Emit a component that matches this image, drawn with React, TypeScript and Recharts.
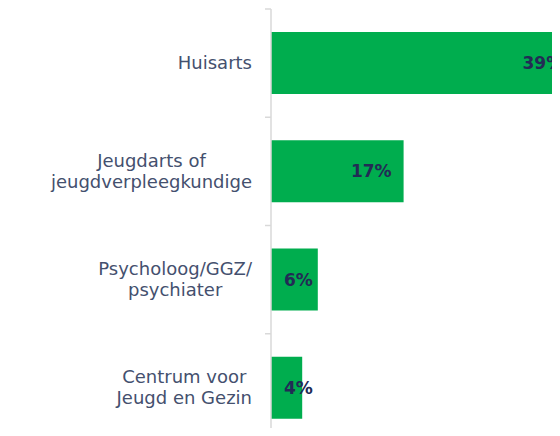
import React from "react";
import { BarChart, Bar, XAxis, YAxis, LabelList } from "recharts";

const categories = ["Huisarts", "Jeugdarts of\njeugdverpleegkundige", "Psycholoog/GGZ/\npsychiater", "Centrum voor\nJeugd en Gezin"];
const values = [39, 17, 6, 4];

const data = categories.map((name, i) => ({ name, value: values[i] }));

const CHART_W = 580;
const CHART_H = 436;
const AXIS_X = 263;
const MARGIN_TOP = 1;
const PLOT_H = 433;
const BAND = PLOT_H / categories.length;
const LABEL_FONT = "18px 'DejaVu Sans'";

let ctx: CanvasRenderingContext2D | null = null;
const textWidth = (s: string) => {
  if (!ctx) ctx = document.createElement("canvas").getContext("2d");
  if (!ctx) return s.length * 9;
  ctx.font = LABEL_FONT;
  return ctx.measureText(s).width;
};

const CategoryTick = (props: any) => {
  const { y, payload } = props;
  const lines: string[] = String(payload.value).split("\n");
  const blockW = Math.max(...lines.map(textWidth));
  const cx = AXIS_X - 19 - blockW / 2;
  const lineH = 21;
  const firstY = y - ((lines.length - 1) * lineH) / 2 + 6;
  const top = y - BAND / 2;
  return (
    <g>
      <line x1={AXIS_X - 6} x2={AXIS_X} y1={top} y2={top} stroke="#d9d9d9" strokeWidth={1.5} />
      <text textAnchor="middle" fill="#44506e" style={{ font: LABEL_FONT }}>
        {lines.map((l, i) => (
          <tspan key={i} x={cx} y={firstY + i * lineH}>
            {l}
          </tspan>
        ))}
      </text>
    </g>
  );
};

const ValueLabel = (props: any) => {
  const { x, y, width, height, value } = props;
  const big = width > 60;
  return (
    <text
      x={big ? x + width - 12 : x + 13}
      y={y + height / 2 + 6}
      textAnchor={big ? "end" : "start"}
      fill="#222b55"
      style={{ font: "bold 17px 'DejaVu Sans'" }}
    >
      {value}%
    </text>
  );
};

export default function App() {
  return (
    <div style={{ width: 552, height: 428, overflow: "hidden", marginBottom: -8, background: "#fff" }}>
      <BarChart
        width={CHART_W}
        height={CHART_H}
        data={data}
        layout="vertical"
        margin={{ top: MARGIN_TOP, right: 5, bottom: CHART_H - MARGIN_TOP - PLOT_H, left: 0 }}
        barSize={62}
      >
        <XAxis type="number" domain={[0, 40]} hide />
        <YAxis
          type="category"
          dataKey="name"
          width={AXIS_X}
          axisLine={{ stroke: "#d9d9d9", strokeWidth: 1.5 }}
          tickLine={false}
          tick={<CategoryTick />}
          interval={0}
        />
        <Bar dataKey="value" fill="#00ad4e" isAnimationActive={false}>
          <LabelList dataKey="value" content={<ValueLabel />} />
        </Bar>
      </BarChart>
    </div>
  );
}
